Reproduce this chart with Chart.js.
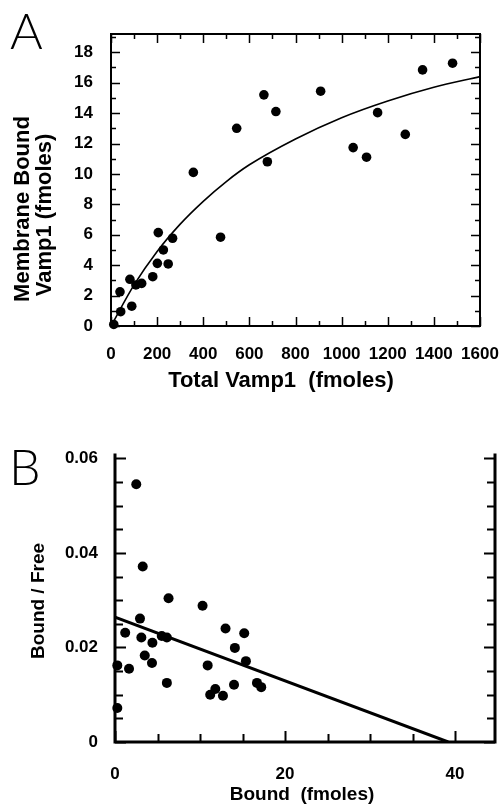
<!DOCTYPE html>
<html>
<head>
<meta charset="utf-8">
<script src="https://cdn.jsdelivr.net/npm/chart.js@4.4.0/dist/chart.umd.min.js"></script>
<style>
  body { margin: 0; background: #fff; }
  #wrap { position: relative; width: 501px; height: 805px; overflow: hidden; }
  canvas { position: absolute; left: 0; }
  #chartA { top: 0; }
  #chartB { top: 400px; }
  .panel { position: absolute; font-family: Lato, "DejaVu Sans", sans-serif; font-weight: 300; font-size: 50px; line-height: 1; color: #000; }
</style>
</head>
<body>
<div id="wrap">
  <canvas id="chartA" width="501" height="400"></canvas>
  <canvas id="chartB" width="501" height="405"></canvas>
  <div class="panel" style="left:10px;top:5px">A</div>
  <div class="panel" style="left:9px;top:441px">B</div>
</div>
<script>
// Panel A - membrane bound vs total Vamp1 (fmoles)
const totalVamp1 = [12, 42, 39, 90, 82, 108, 133, 181, 205, 201, 227, 248, 267, 475, 357,
                    545, 663, 715, 678, 909, 1050, 1108, 1156, 1276, 1351, 1481];
const membraneBound = [0.1, 0.94, 2.25, 1.3, 3.07, 2.7, 2.8, 3.24, 6.14, 4.12, 5.0, 4.08, 5.77, 5.84, 10.1,
                       13.0, 15.2, 14.1, 10.8, 15.44, 11.73, 11.1, 14.03, 12.6, 16.84, 17.28];
// fitted curve
const fitTotal = [0, 100, 200, 300, 400, 500, 600, 800, 1000, 1200, 1400, 1600];
const fitBound = [0, 2.7, 4.9, 6.7, 8.2, 9.5, 10.6, 12.3, 13.7, 14.8, 15.7, 16.4];
const xTicksA = [0, 200, 400, 600, 800, 1000, 1200, 1400, 1600];
const yTicksA = [0, 2, 4, 6, 8, 10, 12, 14, 16, 18];

// Panel B - Scatchard plot
const bound = [2.5, 3.26, 6.3, 10.3, 2.94, 1.2, 3.1, 4.4, 5.5, 6.1, 13.0, 15.2, 14.1, 3.5,
               4.35, 15.4, 10.9, 0.27, 1.65, 6.1, 11.2, 11.8, 12.7, 14.0, 16.7, 17.2, 0.27];
const boundFree = [0.0545, 0.0371, 0.0304, 0.0288, 0.0261, 0.0231, 0.0221, 0.0210, 0.0224, 0.0221, 0.0240, 0.0230, 0.0199, 0.0183,
                   0.0167, 0.0171, 0.0162, 0.0162, 0.0155, 0.0125, 0.0100, 0.0112, 0.0098, 0.0121, 0.0125, 0.0116, 0.0072];
const lineBound = [0, 39.2];
const lineRatio = [0.0264, 0];
const xTicksB = [0, 20, 40];
const yTicksB = [0, 0.02, 0.04, 0.06];

const FONT = "'Liberation Sans', Arial, sans-serif";

function pts(xs, ys) {
  return xs.map((x, i) => ({ x, y: ys[i] }));
}

// frame with inward tick marks + axis titles
const framePlugin = {
  id: 'frame',
  afterDraw(chart, args, o) {
    const { ctx, chartArea: a, scales: { x, y } } = chart;
    const isMajor = (v, m) => Math.abs(v / m - Math.round(v / m)) < 1e-6;
    ctx.save();
    ctx.strokeStyle = '#000';
    ctx.lineCap = 'square';
    ctx.lineWidth = o.lineWidth;
    ctx.beginPath();
    ctx.moveTo(a.left, a.top); ctx.lineTo(a.left, a.bottom); ctx.lineTo(a.right, a.bottom);
    if (o.right) { ctx.moveTo(a.right, a.bottom); ctx.lineTo(a.right, a.top); }
    if (o.top) { ctx.moveTo(a.left, a.top); ctx.lineTo(a.right, a.top); }
    ctx.stroke();

    ctx.lineWidth = o.tickWidth;
    ctx.lineCap = 'butt';
    ctx.beginPath();
    const nx = Math.floor((x.max - x.min) / o.xMinor + 1e-6);
    for (let i = 0; i <= nx; i++) {
      const v = x.min + i * o.xMinor;
      const px = Math.round(x.getPixelForValue(v)) + 0.5;
      const len = isMajor(v, o.xMajor) ? o.majorLen : o.minorLen;
      ctx.moveTo(px, a.bottom); ctx.lineTo(px, a.bottom - len);
      if (o.top) { ctx.moveTo(px, a.top); ctx.lineTo(px, a.top + len); }
    }
    const ny = Math.floor((y.max - y.min) / o.yMinor + 1e-6);
    for (let i = 0; i <= ny; i++) {
      const v = y.min + i * o.yMinor;
      const py = Math.round(y.getPixelForValue(v)) + 0.5;
      const len = isMajor(v, o.yMajor) ? o.majorLen : o.minorLen;
      ctx.moveTo(a.left, py); ctx.lineTo(a.left + len, py);
      if (o.right) { ctx.moveTo(a.right, py); ctx.lineTo(a.right - len, py); }
    }
    ctx.stroke();

    ctx.fillStyle = '#000';
    ctx.textAlign = 'center';
    ctx.textBaseline = 'middle';
    for (const t of o.titles) {
      ctx.save();
      ctx.font = t.font;
      ctx.translate(t.x, t.y);
      if (t.rot) ctx.rotate(-Math.PI / 2);
      ctx.fillText(t.text, 0, 0);
      ctx.restore();
    }
    ctx.restore();
  }
};

function axis(min, max, ticks, size, isX, fontSize, padding) {
  return {
    type: 'linear',
    min, max,
    afterBuildTicks: s => { s.ticks = ticks.map(v => ({ value: v })); },
    afterFit: s => {
      if (isX) s.height = size; else s.width = size;
      s.paddingLeft = s.paddingRight = s.paddingTop = s.paddingBottom = 0;
    },
    grid: { display: false, drawTicks: false },
    border: { display: false },
    ticks: {
      autoSkip: false, maxRotation: 0, padding, color: '#000',
      font: { family: FONT, size: fontSize, weight: 'bold' },
      callback: v => String(v)
    }
  };
}

new Chart(document.getElementById('chartA'), {
  type: 'scatter',
  data: {
    datasets: [
      { data: pts(totalVamp1, membraneBound), pointRadius: 4.8, backgroundColor: '#000', borderWidth: 0, clip: false },
      { data: pts(fitTotal, fitBound), showLine: true, cubicInterpolationMode: 'monotone', borderColor: '#000', borderWidth: 1.6, pointRadius: 0 }
    ]
  },
  options: {
    responsive: false,
    animation: false,
    layout: { padding: { left: 0, right: 21, top: 34, bottom: 0 } },
    plugins: {
      legend: { display: false },
      tooltip: { enabled: false },
      frame: {
        lineWidth: 2, tickWidth: 1.5, right: true, top: true,
        xMinor: 100, xMajor: 200, yMinor: 1, yMajor: 2, majorLen: 9, minorLen: 5,
        titles: [
          { text: 'Membrane Bound', x: 23, y: 209, rot: true, font: "bold 22px " + FONT },
          { text: 'Vamp1 (fmoles)', x: 45, y: 215, rot: true, font: "bold 22px " + FONT },
          { text: 'Total Vamp1  (fmoles)', x: 281, y: 381, font: "bold 22px " + FONT }
        ]
      }
    },
    scales: {
      x: axis(0, 1600, xTicksA, 74, true, 17, 18),
      y: axis(0, 19.2, yTicksA, 111, false, 17, 18)
    }
  },
  plugins: [framePlugin]
});

new Chart(document.getElementById('chartB'), {
  type: 'scatter',
  data: {
    datasets: [
      { data: pts(bound, boundFree), pointRadius: 5, backgroundColor: '#000', borderWidth: 0, clip: false },
      { data: pts(lineBound, lineRatio), showLine: true, borderColor: '#000', borderWidth: 3, pointRadius: 0 }
    ]
  },
  options: {
    responsive: false,
    animation: false,
    layout: { padding: { left: 0, right: 6, top: 55, bottom: 0 } },
    plugins: {
      legend: { display: false },
      tooltip: { enabled: false },
      frame: {
        lineWidth: 3, tickWidth: 2, right: true, top: false,
        xMinor: 5, xMajor: 20, yMinor: 0.005, yMajor: 0.02, majorLen: 11, minorLen: 8,
        titles: [
          { text: 'Bound / Free', x: 39, y: 201, rot: true, font: "bold 19px " + FONT },
          { text: 'Bound  (fmoles)', x: 302, y: 395, font: "bold 19px " + FONT }
        ]
      }
    },
    scales: {
      x: axis(0, 44.7, xTicksB, 63, true, 17, 22),
      y: axis(0, 0.0607, yTicksB, 115, false, 17, 17)
    }
  },
  plugins: [framePlugin]
});
</script>
</body>
</html>
